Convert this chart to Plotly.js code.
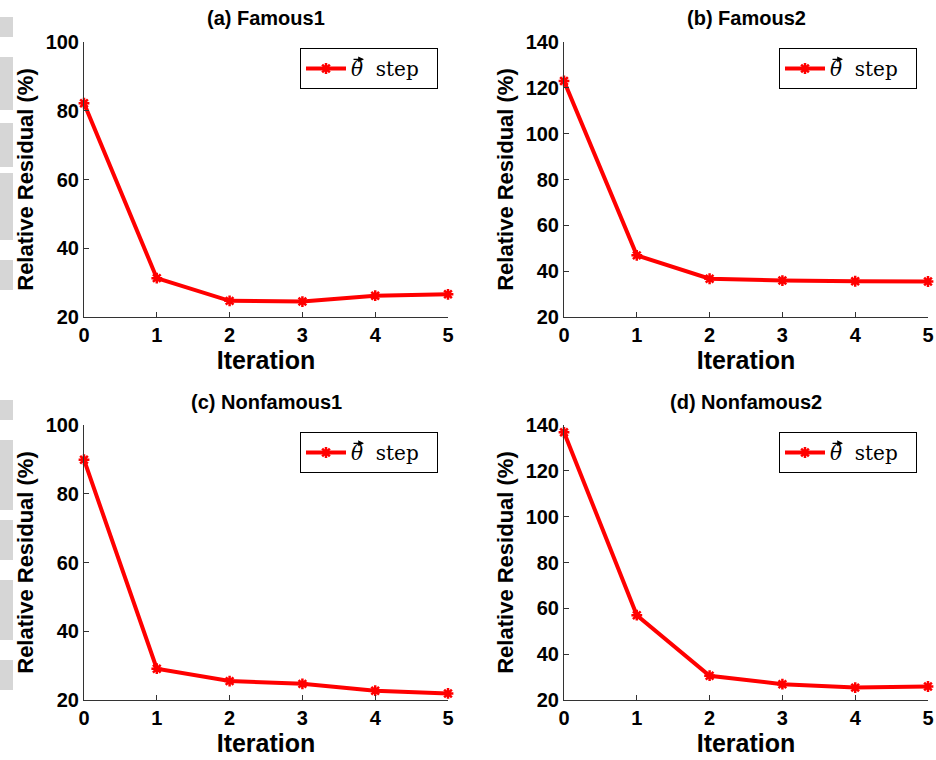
<!DOCTYPE html>
<html>
<head>
<meta charset="utf-8">
<script src="https://cdn.plot.ly/plotly-3.0.1.min.js"></script>
<style>html,body{margin:0;padding:0;background:#fff;}#chart{width:936px;height:760px;}</style>
</head>
<body>
<div id="chart"></div>
<script>
const iterations = [0, 1, 2, 3, 4, 5];
const famous1 = [82.2, 31.3, 24.7, 24.5, 26.2, 26.6];
const famous2 = [123.0, 46.9, 36.7, 35.9, 35.6, 35.5];
const nonfamous1 = [89.9, 29.1, 25.5, 24.7, 22.7, 21.9];
const nonfamous2 = [136.8, 57.0, 30.6, 26.9, 25.4, 25.9];
const panelTitles = ['(a) Famous1', '(b) Famous2', '(c) Nonfamous1', '(d) Nonfamous2'];
const seriesName = '<i>θ</i>\u00a0 step\u00a0\u00a0';
const yRanges = [[20, 100], [20, 140], [20, 100], [20, 140]];
const yTicks = [[20, 40, 60, 80, 100], [20, 40, 60, 80, 100, 120, 140], [20, 40, 60, 80, 100], [20, 40, 60, 80, 100, 120, 140]];

const W = 936, H = 760;
const px = v => v / W, py = v => 1 - v / H;
const xDomains = [[px(84), px(448)], [px(564), px(928)]];
const yDomains = [[py(317), py(42)], [py(700), py(425)]];
const legendLeft = [300, 779];
const legendTop = [48, 432];
const allData = [famous1, famous2, nonfamous1, nonfamous2];

const traces = [];
const layout = {
  width: W, height: H,
  margin: {l: 0, r: 0, t: 0, b: 0},
  paper_bgcolor: '#fff', plot_bgcolor: '#fff',
  font: {family: 'Liberation Sans, Arial, sans-serif', color: '#000'},
  showlegend: true,
  annotations: [],
  shapes: []
};

const tickFont = {family: 'Liberation Sans, Arial, sans-serif', size: 20, color: '#000', weight: 'bold'};
const xTitleFont = {family: 'Liberation Sans, Arial, sans-serif', size: 25, color: '#000', weight: 'bold'};
const yTitleFont = {family: 'Liberation Sans, Arial, sans-serif', size: 22, color: '#000', weight: 'bold'};

for (let i = 0; i < 4; i++) {
  const col = i % 2, row = Math.floor(i / 2);
  const n = i + 1;
  const xa = n === 1 ? 'xaxis' : 'xaxis' + n;
  const ya = n === 1 ? 'yaxis' : 'yaxis' + n;
  const lg = n === 1 ? 'legend' : 'legend' + n;
  traces.push({
    x: iterations, y: allData[i],
    xaxis: n === 1 ? 'x' : 'x' + n, yaxis: n === 1 ? 'y' : 'y' + n,
    type: 'scatter', mode: 'lines+markers',
    name: seriesName, legend: lg,
    line: {color: '#ff0000', width: 4},
    marker: {symbol: 'asterisk-open', size: 9, color: '#ff0000', line: {color: '#ff0000', width: 2.5}},
    cliponaxis: false
  });
  layout[xa] = {
    domain: xDomains[col], anchor: n === 1 ? 'y' : 'y' + n,
    range: [0, 5], tickvals: iterations, ticks: 'inside', ticklen: 5, tickwidth: 1, tickcolor: '#333',
    showline: true, linecolor: '#333', linewidth: 1, showgrid: false, zeroline: false, mirror: false,
    tickfont: tickFont, fixedrange: true,
    title: {text: 'Iteration', font: xTitleFont, standoff: 0}
  };
  layout[ya] = {
    domain: yDomains[row], anchor: n === 1 ? 'x' : 'x' + n,
    range: yRanges[i], tickvals: yTicks[i], ticks: 'inside', ticklen: 5, tickwidth: 1, tickcolor: '#333',
    showline: true, linecolor: '#333', linewidth: 1, showgrid: false, zeroline: false, mirror: false,
    tickfont: tickFont, fixedrange: true,
    title: {text: 'Relative Residual (%)', font: yTitleFont, standoff: 5}
  };
  layout[lg] = {
    x: px(legendLeft[col]), xanchor: 'left',
    y: py(legendTop[row]), yanchor: 'top',
    bgcolor: '#fff', bordercolor: '#000', borderwidth: 1,
    font: {family: 'DejaVu Serif, Liberation Serif, serif', size: 20, color: '#000'},
    itemwidth: 40
  };
  const cx = (xDomains[col][0] + xDomains[col][1]) / 2;
  layout.annotations.push({
    text: '<b>' + panelTitles[i] + '</b>', xref: 'paper', yref: 'paper',
    x: cx, y: row === 0 ? py(18) : py(402), xanchor: 'center', yanchor: 'middle',
    showarrow: false, font: {family: 'Liberation Sans, Arial, sans-serif', size: 20, color: '#000'}
  });
}

// faint watermark fragments at the left edge
const wm = [[17, 37], [57, 110], [123, 167], [173, 240], [260, 290], [400, 420], [440, 510], [520, 560], [580, 640], [660, 690]];
wm.forEach(([a, b]) => {
  layout.shapes.push({type: 'rect', xref: 'paper', yref: 'paper', x0: 0, x1: px(13), y0: py(b), y1: py(a),
    fillcolor: '#d6d6d6', line: {width: 0}, layer: 'below'});
});

Plotly.newPlot('chart', traces, layout, {staticPlot: true, displayModeBar: false}).then(gd => {
  // vector arrow over theta: measure offset within the first legend, reuse for all four
  const root = gd.getBoundingClientRect();
  let dx = 63, dy = 14;
  const txt = gd.querySelector('.legendtext');
  if (txt) {
    const t = txt.querySelector('tspan') || txt;
    const r = t.getBoundingClientRect();
    if (r.width > 0) {
      dx = r.left - root.left + r.width / 2 + 7 - legendLeft[0];
      dy = r.top - root.top + 2 - legendTop[0];
    }
  }
  const extra = [];
  for (let i = 0; i < 4; i++) {
    const col = i % 2, row = Math.floor(i / 2);
    extra.push({
      text: '', xref: 'paper', yref: 'paper',
      x: (legendLeft[col] + dx) / W, y: 1 - (legendTop[row] + dy) / H,
      showarrow: true, ax: -12, ay: 0, arrowhead: 2, arrowsize: 0.9, arrowwidth: 1.3, arrowcolor: '#000',
      standoff: 0, startstandoff: 0
    });
  }
  Plotly.relayout(gd, {annotations: gd.layout.annotations.concat(extra)});
});
</script>
</body>
</html>
